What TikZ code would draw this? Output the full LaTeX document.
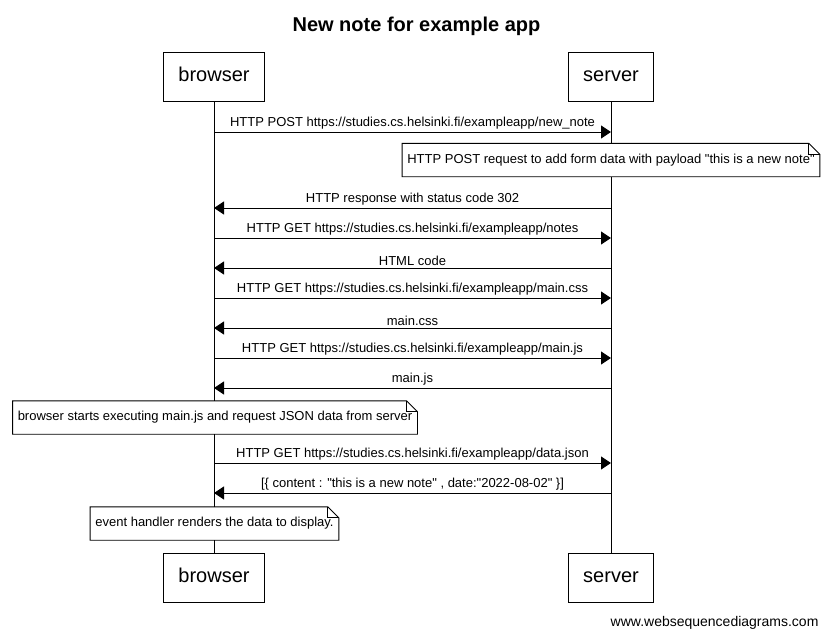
\documentclass[tikz,border=0pt]{standalone}
\usepackage{fontspec}
\setmainfont{Liberation Sans}[Ligatures=TeXOff]
\usetikzlibrary{arrows.meta, positioning}

\tikzset{
  actor/.style={draw, line width=0.9pt, font=\fontsize{20}{24}\selectfont, inner xsep=15pt, inner ysep=0pt,
    text height=15pt, text depth=4.5pt, minimum height=49pt},
  lifeline/.style={line width=0.9pt},
  msg/.style={-{Triangle[length=10pt,width=13pt]}, line width=0.9pt},
  lbl/.style={font=\fontsize{13}{15}\selectfont, inner sep=2pt, above},
  notetext/.style={font=\fontsize{13}{15}\selectfont, inner xsep=5pt, minimum height=33pt}
}
\newcommand{\notebox}[1]{%
  \draw[line width=0.9pt] (#1.south west) -- (#1.south east) -- ([yshift=-11pt]#1.north east)
    -- ([xshift=-11pt]#1.north east) -- (#1.north west) -- cycle;
  \draw[line width=0.9pt] ([xshift=-11pt]#1.north east) -- ([xshift=-11pt,yshift=-11pt]#1.north east)
    -- ([yshift=-11pt]#1.north east);
}

\begin{document}
\begin{tikzpicture}[x=1pt, y=-1pt]
    \useasboundingbox (0,0) rectangle (831,635);
    \node[anchor=base, font=\fontsize{20}{24}\selectfont\bfseries] (title) at (416.5,31) {New note for example app};

    \node[actor] (browserTop) at (214,76.5) {browser};
    \node[actor] (serverTop) at (611,76.5) {server};
    \node[actor] (browserBot) at (214,577.5) {browser};
    \node[actor] (serverBot) at (611,577.5) {server};
    \draw[lifeline] (browserTop) -- (browserBot);
    \draw[lifeline] (serverTop) -- (serverBot);

    \foreach \i/\y in {1/132, 3/208, 4/238, 5/268, 6/298, 7/328, 8/358, 9/388, 11/463, 12/493} {
        \coordinate (b\i) at (214,\y);
        \coordinate (s\i) at (611,\y);
    }

    \draw[msg] (b1) -- node[lbl] {HTTP POST https://studies.cs.helsinki.fi/exampleapp/new\_note} (s1);
    \node[notetext, fill=white] (note1) at (611,160) {HTTP POST request to add form data with payload "this is a new note"};
    \notebox{note1}
    \draw[msg] (s3) -- node[lbl] {HTTP response with status code 302} (b3);
    \draw[msg] (b4) -- node[lbl] {HTTP GET https://studies.cs.helsinki.fi/exampleapp/notes} (s4);
    \draw[msg] (s5) -- node[lbl] {HTML code} (b5);
    \draw[msg] (b6) -- node[lbl] {HTTP GET https://studies.cs.helsinki.fi/exampleapp/main.css} (s6);
    \draw[msg] (s7) -- node[lbl] {main.css} (b7);
    \draw[msg] (b8) -- node[lbl] {HTTP GET https://studies.cs.helsinki.fi/exampleapp/main.js} (s8);
    \draw[msg] (s9) -- node[lbl] {main.js} (b9);
    \node[notetext, fill=white] (note2) at (215,417.5) {browser starts executing main.js and request JSON data from server};
    \notebox{note2}
    \draw[msg] (b11) -- node[lbl] {HTTP GET https://studies.cs.helsinki.fi/exampleapp/data.json} (s11);
    \draw[msg] (s12) -- node[lbl] {[\{ content : "this is a new note" , date:"2022-08-02" \}]} (b12);
    \node[notetext, fill=white] (note3) at (214.5,523.5) {event handler renders the data to display.};
    \notebox{note3}

    \node[anchor=base east, font=\fontsize{14}{16}\selectfont] (credit) at (822,626) {www.websequencediagrams.com};
\end{tikzpicture}
\end{document}
